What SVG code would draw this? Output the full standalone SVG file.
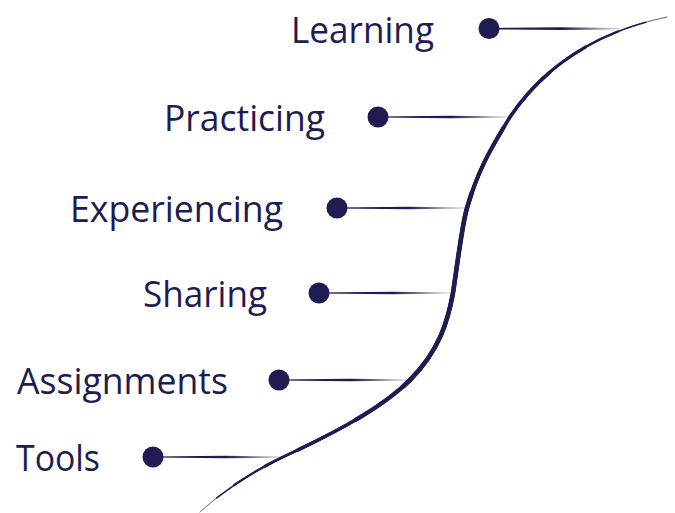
<svg xmlns="http://www.w3.org/2000/svg" width="675" height="513" viewBox="0 0 675 513">
<style>
.lbl{font-family:"Open Sans","Noto Sans","Liberation Sans",sans-serif;font-size:36px;fill:#201b50}
.dot{fill:#201b50}
.c{fill:none;stroke:#201b50;stroke-linecap:round}
.ln{fill:url(#fade)}
</style>
<defs>
<linearGradient id="fade" x1="0" y1="0" x2="1" y2="0">
<stop offset="0" stop-color="#201b50"/>
<stop offset="0.55" stop-color="#201b50"/>
<stop offset="1" stop-color="#201b50" stop-opacity="0.15"/>
</linearGradient>
</defs>
<g id="curve">
<path class="c" stroke-width="0.7" d="M200,512 C230,485 260,468 283,457 C330,435 380,410 410,380 C440,350 448,320 453,293 C458,260 462,225 467,208 C478,170 490,150 510,117 C540,72 590,33 667,17"/>
<path class="c" stroke-width="1.5" pathLength="100" stroke-dasharray="94 200" stroke-dashoffset="-3" d="M200,512 C230,485 260,468 283,457 C330,435 380,410 410,380 C440,350 448,320 453,293 C458,260 462,225 467,208 C478,170 490,150 510,117 C540,72 590,33 667,17"/>
<path class="c" stroke-width="2.3" pathLength="100" stroke-dasharray="87 200" stroke-dashoffset="-6" d="M200,512 C230,485 260,468 283,457 C330,435 380,410 410,380 C440,350 448,320 453,293 C458,260 462,225 467,208 C478,170 490,150 510,117 C540,72 590,33 667,17"/>
<path class="c" stroke-width="3" pathLength="100" stroke-dasharray="77 200" stroke-dashoffset="-11" d="M200,512 C230,485 260,468 283,457 C330,435 380,410 410,380 C440,350 448,320 453,293 C458,260 462,225 467,208 C478,170 490,150 510,117 C540,72 590,33 667,17"/>
<path class="c" stroke-width="3.6" pathLength="100" stroke-dasharray="66 200" stroke-dashoffset="-16" d="M200,512 C230,485 260,468 283,457 C330,435 380,410 410,380 C440,350 448,320 453,293 C458,260 462,225 467,208 C478,170 490,150 510,117 C540,72 590,33 667,17"/>
<path class="c" stroke-width="4.1" pathLength="100" stroke-dasharray="47 200" stroke-dashoffset="-25" d="M200,512 C230,485 260,468 283,457 C330,435 380,410 410,380 C440,350 448,320 453,293 C458,260 462,225 467,208 C478,170 490,150 510,117 C540,72 590,33 667,17"/>
<path class="c" stroke-width="4.6" pathLength="100" stroke-dasharray="29 200" stroke-dashoffset="-33" d="M200,512 C230,485 260,468 283,457 C330,435 380,410 410,380 C440,350 448,320 453,293 C458,260 462,225 467,208 C478,170 490,150 510,117 C540,72 590,33 667,17"/>
</g>
<g id="connectors">
<polygon class="ln" points="489,28 560,27.3 620,28 620,29.4 560,30.1 489,29.4"/>
<polygon class="ln" points="378,116.4 450,115.8 510,116.5 510,117.6 450,118.2 378,117.6"/>
<polygon class="ln" points="337,207.4 408,206.8 466,207.5 466,208.6 408,209.2 337,208.6"/>
<polygon class="ln" points="319,292.4 392,291.8 452,292.5 452,293.6 392,294.2 319,293.6"/>
<polygon class="ln" points="279,379.4 350,378.8 410,379.5 410,380.6 350,381.2 279,380.6"/>
<polygon class="ln" points="153,456.4 225,455.8 285,456.5 285,457.6 225,458.2 153,457.6"/>
</g>
<g id="learning"><circle class="dot" cx="489" cy="28.5" r="10.5"/><text class="lbl" x="291" y="42.5" textLength="143" lengthAdjust="spacingAndGlyphs">Learning</text></g>
<g id="practicing"><circle class="dot" cx="378" cy="117" r="10.5"/><text class="lbl" x="164" y="130.5" textLength="161" lengthAdjust="spacingAndGlyphs">Practicing</text></g>
<g id="experiencing"><circle class="dot" cx="337" cy="208" r="10.5"/><text class="lbl" x="70" y="221.5" textLength="213" lengthAdjust="spacingAndGlyphs">Experiencing</text></g>
<g id="sharing"><circle class="dot" cx="319" cy="293" r="10.5"/><text class="lbl" x="143" y="306.5" textLength="124" lengthAdjust="spacingAndGlyphs">Sharing</text></g>
<g id="assignments"><circle class="dot" cx="279" cy="380" r="10.5"/><text class="lbl" x="17" y="393.5" textLength="211" lengthAdjust="spacingAndGlyphs">Assignments</text></g>
<g id="tools"><circle class="dot" cx="153" cy="457" r="10.5"/><text class="lbl" x="16" y="471" textLength="84" lengthAdjust="spacingAndGlyphs">Tools</text></g>
</svg>
